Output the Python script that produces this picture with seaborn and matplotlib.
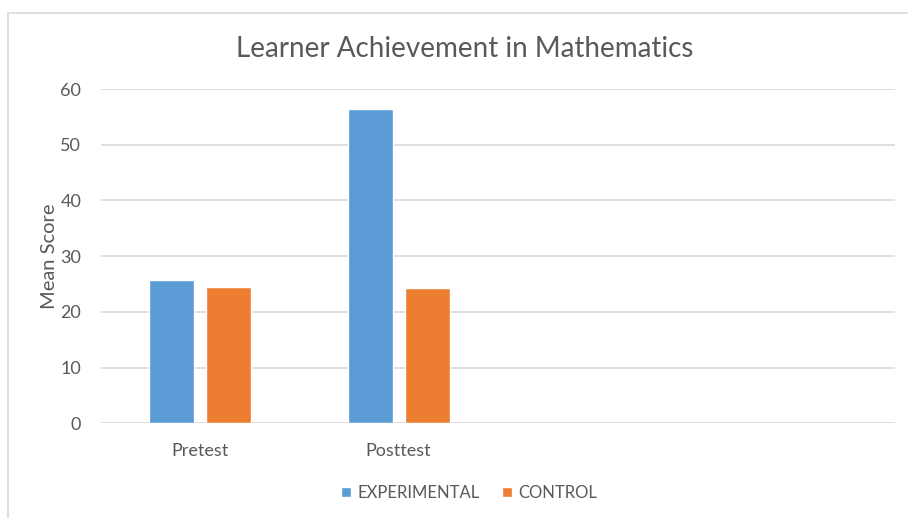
import pandas as pd
import matplotlib.pyplot as plt
from matplotlib.patches import Rectangle
import seaborn as sns

# data
tests = ['Pretest', 'Posttest']
experimental = [25.7, 56.4]
control = [24.4, 24.3]
groups = ['EXPERIMENTAL', 'CONTROL']

df = pd.DataFrame({
    'test': tests * 2,
    'group': [groups[0]] * 2 + [groups[1]] * 2,
    'score': experimental + control,
})

sns.set_style('white')
plt.rcParams['font.family'] = ['Lato', 'DejaVu Sans']
text_col = '#595959'
grid_col = '#D9D9D9'

fig = plt.figure(figsize=(9.08, 5.18), dpi=100)
# outer chart border (Excel style)
fig.patches.append(Rectangle((8 / 908, -0.1), 1.2, 1 - 13.5 / 518 + 0.1,
                             transform=fig.transFigure, fill=False,
                             edgecolor=grid_col, linewidth=1.2))
ax = fig.add_axes([100.7 / 908, 1 - 423.3 / 518, (895 - 100.7) / 908, (423.3 - 89) / 518])

sns.barplot(data=df, x='test', y='score', hue='group', order=tests,
            hue_order=groups, palette=['#5B9BD5', '#ED7D31'],
            width=0.574, gap=0.209, saturation=1, ax=ax, legend=True)

ax.set_xlim(-0.5, 3.5)
ax.set_ylim(0, 60)
ax.set_yticks(range(0, 61, 10))
ax.yaxis.grid(True, color=grid_col, linewidth=1.2)
ax.set_axisbelow(True)
for s in ax.spines.values():
    s.set_visible(False)
ax.tick_params(axis='both', length=0, labelsize=13, labelcolor=text_col)
ax.tick_params(axis='y', pad=14)
ax.tick_params(axis='x', pad=14)
ax.set_xlabel('')
ax.set_ylabel('Mean Score', fontsize=14.5, color=text_col, labelpad=2)

fig.text(465 / 908, 1 - 49 / 518, 'Learner Achievement in Mathematics',
         ha='center', va='center', fontsize=20, color=text_col)

handles, labels = ax.get_legend_handles_labels()
ax.get_legend().remove()
fig.legend(handles, labels, loc='center', bbox_to_anchor=(469 / 908, 1 - 493 / 518),
           ncol=2, frameon=False, fontsize=12, labelcolor=text_col,
           handlelength=0.6, handleheight=0.6, handletextpad=0.4, columnspacing=1.3)

fig.savefig('out.png', dpi=100)
